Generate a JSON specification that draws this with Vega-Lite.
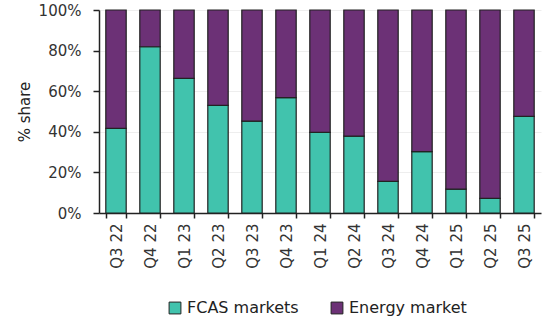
{
  "$schema": "https://vega.github.io/schema/vega-lite/v6.json",
  "autosize": {"type": "none"},
  "padding": {"left": 99, "top": 10, "right": 10, "bottom": 116},
  "width": 442,
  "height": 203,
  "background": "white",
  "config": {
    "view": {"stroke": null},
    "font": "DejaVu Sans"
  },
  "data": {
    "values": [
      {"quarter": "Q3 22", "market": "FCAS markets", "share": 41.7},
      {"quarter": "Q3 22", "market": "Energy market", "share": 58.3},
      {"quarter": "Q4 22", "market": "FCAS markets", "share": 81.9},
      {"quarter": "Q4 22", "market": "Energy market", "share": 18.1},
      {"quarter": "Q1 23", "market": "FCAS markets", "share": 66.3},
      {"quarter": "Q1 23", "market": "Energy market", "share": 33.7},
      {"quarter": "Q2 23", "market": "FCAS markets", "share": 53.0},
      {"quarter": "Q2 23", "market": "Energy market", "share": 47.0},
      {"quarter": "Q3 23", "market": "FCAS markets", "share": 45.3},
      {"quarter": "Q3 23", "market": "Energy market", "share": 54.7},
      {"quarter": "Q4 23", "market": "FCAS markets", "share": 56.8},
      {"quarter": "Q4 23", "market": "Energy market", "share": 43.2},
      {"quarter": "Q1 24", "market": "FCAS markets", "share": 39.7},
      {"quarter": "Q1 24", "market": "Energy market", "share": 60.3},
      {"quarter": "Q2 24", "market": "FCAS markets", "share": 37.9},
      {"quarter": "Q2 24", "market": "Energy market", "share": 62.1},
      {"quarter": "Q3 24", "market": "FCAS markets", "share": 15.6},
      {"quarter": "Q3 24", "market": "Energy market", "share": 84.4},
      {"quarter": "Q4 24", "market": "FCAS markets", "share": 30.2},
      {"quarter": "Q4 24", "market": "Energy market", "share": 69.8},
      {"quarter": "Q1 25", "market": "FCAS markets", "share": 11.8},
      {"quarter": "Q1 25", "market": "Energy market", "share": 88.2},
      {"quarter": "Q2 25", "market": "FCAS markets", "share": 7.2},
      {"quarter": "Q2 25", "market": "Energy market", "share": 92.8},
      {"quarter": "Q3 25", "market": "FCAS markets", "share": 47.6},
      {"quarter": "Q3 25", "market": "Energy market", "share": 52.4}
    ]
  },
  "mark": {"type": "bar", "stroke": "#222222", "strokeWidth": 1.2},
  "encoding": {
    "x": {
      "field": "quarter",
      "type": "nominal",
      "sort": null,
      "scale": {"paddingInner": 0.4, "paddingOuter": 0.2},
      "axis": {
        "title": null,
        "labelAngle": -90,
        "labelFontSize": 15,
        "labelColor": "#333333",
        "labelPadding": 5,
        "tickBand": "extent",
        "tickSize": 5,
        "tickColor": "#222222",
        "tickWidth": 1.5,
        "domainColor": "#222222",
        "domainWidth": 1.5,
        "grid": false
      }
    },
    "y": {
      "field": "share",
      "type": "quantitative",
      "stack": "normalize",
      "scale": {"domain": [0, 1]},
      "axis": {
        "title": "% share",
        "titleFontSize": 15,
        "titleFontWeight": "normal",
        "titleColor": "#222222",
        "titlePadding": 6,
        "format": ".0%",
        "values": [0, 0.2, 0.4, 0.6, 0.8, 1],
        "labelFontSize": 15,
        "labelColor": "#333333",
        "labelPadding": 12,
        "tickSize": 6,
        "tickColor": "#222222",
        "tickWidth": 1.5,
        "domainColor": "#222222",
        "domainWidth": 1.5,
        "gridColor": "#eeeeee",
        "gridWidth": 1
      }
    },
    "color": {
      "field": "market",
      "type": "nominal",
      "sort": ["FCAS markets", "Energy market"],
      "scale": {"domain": ["FCAS markets", "Energy market"], "range": ["#41C3AD", "#6C3176"]},
      "legend": {
        "title": null,
        "orient": "none",
        "direction": "horizontal",
        "legendX": 68,
        "legendY": 290,
        "symbolType": "square",
        "symbolSize": 140,
        "symbolStrokeColor": "#222222",
        "symbolStrokeWidth": 1,
        "labelFontSize": 16,
        "labelColor": "#222222",
        "labelOffset": 4,
        "columnPadding": 30
      }
    },
    "order": {"field": "market", "sort": "descending"}
  }
}
